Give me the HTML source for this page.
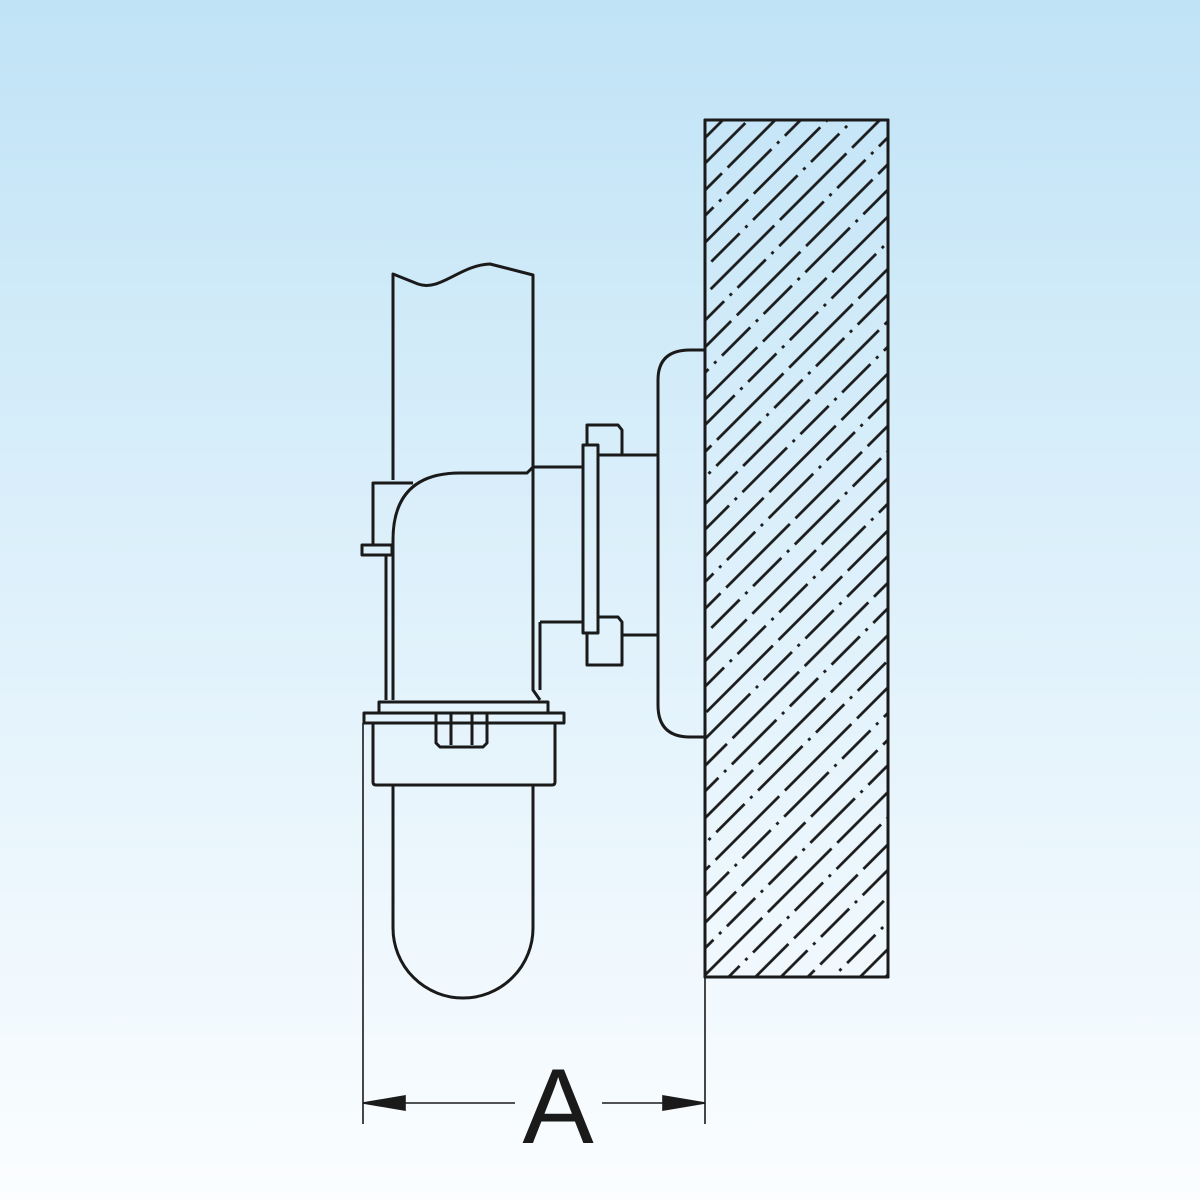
<!DOCTYPE html>
<html><head><meta charset="utf-8"><style>
html,body{margin:0;padding:0}
body{width:1200px;height:1200px;background:linear-gradient(#c0e3f6 0%,#dff1fb 50%,#fbfdff 100%);overflow:hidden}
svg{display:block}
</style></head><body>
<svg width="1200" height="1200" viewBox="0 0 1200 1200" xmlns="http://www.w3.org/2000/svg">
<defs>
<pattern id="h" patternUnits="userSpaceOnUse" width="200" height="37" patternTransform="rotate(-45)">
<line x1="0" y1="4" x2="200" y2="4" stroke="#1a1a1a" stroke-width="2.8" stroke-dasharray="90 8"/>
<line x1="0" y1="22" x2="200" y2="22" stroke="#1a1a1a" stroke-width="2.8" stroke-dasharray="40 8 3 8"/>
</pattern>
</defs>
<g fill="none" stroke="#1a1a1a" stroke-width="3" stroke-linejoin="round">
<rect x="705" y="120" width="183" height="857" fill="url(#h)"/>
<rect x="705" y="120" width="183" height="857"/>
<path d="M705 350 L690 350 Q658 350 658 380 L658 705 Q658 737 690 737 L705 737"/>
<path d="M393 480 L393 274 L418 284 C440 292 460 265 490 264 L533 275 L533 468"/>
<path d="M413 483 L373 483 L373 545"/>
<rect x="362" y="545" width="30" height="10"/>
<line x1="386" y1="555" x2="386" y2="700"/>
<path d="M393 700 L393 540 Q393 473 460 473 L527 473 L533 467"/>
<path d="M533 467 L533 690 L540 700"/>
<path d="M540 622 L540 690"/>
<path d="M533 467 L583 467 M540 622 L583 622"/>
<rect x="583" y="445" width="15" height="188"/>
<path d="M587 445 L587 425 L618 425 L622 430 L622 455"/>
<path d="M587 633 L587 665 L622 665 L622 622 L618 617 L598 617"/>
<path d="M598 455 L658 455 L658 635 L622 635"/>
<rect x="379" y="702" width="169" height="11"/>
<rect x="364" y="713" width="200" height="10"/>
<path d="M373 723 L373 782 Q373 785 376 785 L552 785 Q555 785 555 782 L555 723"/>
<path d="M436 713 L436 743 L440 747 L483 747 L487 743 L487 713 M451 713 L451 745 M472 713 L472 745"/>
<path d="M393 785 L393 928 A70 70 0 0 0 533 928 L533 785"/>
</g>
<g stroke="#1a1a1a" stroke-width="1.6" fill="#1a1a1a">
<line x1="363" y1="723" x2="363" y2="1124"/>
<line x1="705" y1="977" x2="705" y2="1124"/>
<line x1="363" y1="1103" x2="515" y2="1103"/>
<line x1="602" y1="1103" x2="705" y2="1103"/>
<path d="M363 1103 L405 1096 L405 1110 Z"/>
<path d="M705 1103 L663 1096 L663 1110 Z"/>
</g>
<text x="558" y="1143" text-anchor="middle" font-family="Liberation Sans, sans-serif" font-size="107" fill="#1a1a1a">A</text>
</svg>
</body></html>
